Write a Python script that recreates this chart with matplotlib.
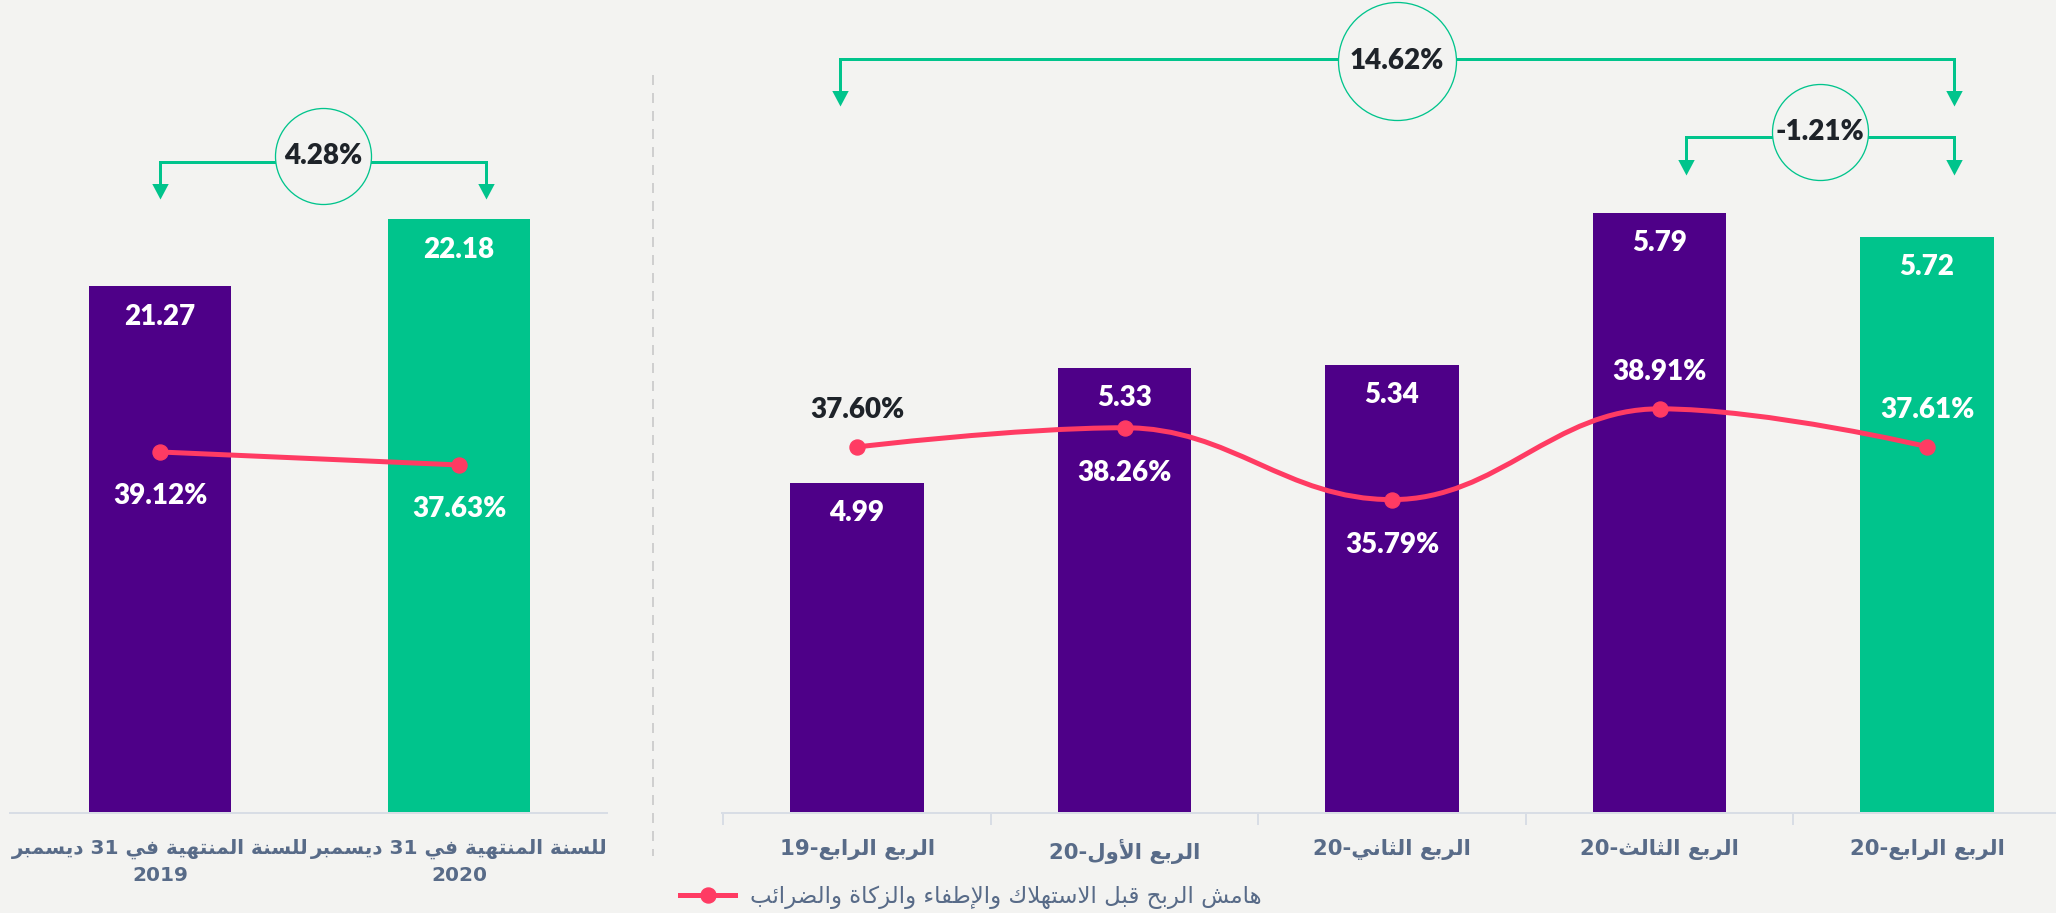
import re
import numpy as np
import matplotlib
matplotlib.use("Agg")
import matplotlib.pyplot as plt
from matplotlib.path import Path
from matplotlib.patches import PathPatch
from matplotlib.lines import Line2D
from matplotlib.transforms import blended_transform_factory

# ---------------- data ----------------
year_labels = ["للسنة المنتهية في 31 ديسمبر\n2019", "للسنة المنتهية في 31 ديسمبر\n2020"]
year_values = [21.27, 22.18]
year_margin = [39.12, 37.63]
year_change = "4.28%"

quarter_labels = ["الربع الرابع-19", "الربع الأول-20", "الربع الثاني-20",
                  "الربع الثالث-20", "الربع الرابع-20"]
quarter_values = [4.99, 5.33, 5.34, 5.79, 5.72]
quarter_margin = [37.60, 38.26, 35.79, 38.91, 37.61]
yoy_change = "14.62%"
qoq_change = "-1.21%"

legend_label = "هامش الربح قبل الاستهلاك والإطفاء والزكاة والضرائب"

# ---------------- styles ----------------
BG = "#f3f3f1"
PURPLE = "#4e0088"
GREEN = "#00c48c"
PINK = "#ff3b63"
DARK = "#1e2329"
LABEL = "#586b88"
AXIS = "#d8dde5"
NUMFONT = ["Lato", "DejaVu Sans"]
NUMW = "heavy"
ARFONT = ["DejaVu Sans"]
CATSIZE = 15.3
YEARSIZE = 14.4

# ---------------- minimal Arabic shaping / RTL ----------------
FORMS = {
    'ء': ('\uFE80', None, None, None),
    'آ': ('\uFE81', '\uFE82', None, None),
    'أ': ('\uFE83', '\uFE84', None, None),
    'ؤ': ('\uFE85', '\uFE86', None, None),
    'إ': ('\uFE87', '\uFE88', None, None),
    'ئ': ('\uFE89', '\uFE8A', '\uFE8B', '\uFE8C'),
    'ا': ('\uFE8D', '\uFE8E', None, None),
    'ب': ('\uFE8F', '\uFE90', '\uFE91', '\uFE92'),
    'ة': ('\uFE93', '\uFE94', None, None),
    'ت': ('\uFE95', '\uFE96', '\uFE97', '\uFE98'),
    'ث': ('\uFE99', '\uFE9A', '\uFE9B', '\uFE9C'),
    'ج': ('\uFE9D', '\uFE9E', '\uFE9F', '\uFEA0'),
    'ح': ('\uFEA1', '\uFEA2', '\uFEA3', '\uFEA4'),
    'خ': ('\uFEA5', '\uFEA6', '\uFEA7', '\uFEA8'),
    'د': ('\uFEA9', '\uFEAA', None, None),
    'ذ': ('\uFEAB', '\uFEAC', None, None),
    'ر': ('\uFEAD', '\uFEAE', None, None),
    'ز': ('\uFEAF', '\uFEB0', None, None),
    'س': ('\uFEB1', '\uFEB2', '\uFEB3', '\uFEB4'),
    'ش': ('\uFEB5', '\uFEB6', '\uFEB7', '\uFEB8'),
    'ص': ('\uFEB9', '\uFEBA', '\uFEBB', '\uFEBC'),
    'ض': ('\uFEBD', '\uFEBE', '\uFEBF', '\uFEC0'),
    'ط': ('\uFEC1', '\uFEC2', '\uFEC3', '\uFEC4'),
    'ظ': ('\uFEC5', '\uFEC6', '\uFEC7', '\uFEC8'),
    'ع': ('\uFEC9', '\uFECA', '\uFECB', '\uFECC'),
    'غ': ('\uFECD', '\uFECE', '\uFECF', '\uFED0'),
    'ف': ('\uFED1', '\uFED2', '\uFED3', '\uFED4'),
    'ق': ('\uFED5', '\uFED6', '\uFED7', '\uFED8'),
    'ك': ('\uFED9', '\uFEDA', '\uFEDB', '\uFEDC'),
    'ل': ('\uFEDD', '\uFEDE', '\uFEDF', '\uFEE0'),
    'م': ('\uFEE1', '\uFEE2', '\uFEE3', '\uFEE4'),
    'ن': ('\uFEE5', '\uFEE6', '\uFEE7', '\uFEE8'),
    'ه': ('\uFEE9', '\uFEEA', '\uFEEB', '\uFEEC'),
    'و': ('\uFEED', '\uFEEE', None, None),
    'ى': ('\uFEEF', '\uFEF0', None, None),
    'ي': ('\uFEF1', '\uFEF2', '\uFEF3', '\uFEF4'),
}
LAM_ALEF = {'آ': ('\uFEF5', '\uFEF6'), 'أ': ('\uFEF7', '\uFEF8'),
            'إ': ('\uFEF9', '\uFEFA'), 'ا': ('\uFEFB', '\uFEFC')}


def _dual(c):
    return c in FORMS and FORMS[c][2] is not None


def _has_final(c):
    return c in FORMS and FORMS[c][1] is not None


def shape(s):
    out = []
    n = len(s)
    i = 0
    while i < n:
        c = s[i]
        prev_joins = i > 0 and _dual(s[i - 1])
        if c == 'ل' and i + 1 < n and s[i + 1] in LAM_ALEF:
            iso, fin = LAM_ALEF[s[i + 1]]
            out.append(fin if prev_joins else iso)
            i += 2
            continue
        if c not in FORMS:
            out.append(c)
            i += 1
            continue
        iso, fin, ini, med = FORMS[c]
        pj = prev_joins and fin is not None
        nj = ini is not None and i + 1 < n and _has_final(s[i + 1])
        if pj and nj:
            out.append(med)
        elif pj:
            out.append(fin)
        elif nj:
            out.append(ini)
        else:
            out.append(iso)
        i += 1
    return ''.join(out)


def ar(text):
    lines = []
    for line in text.split('\n'):
        rev = shape(line)[::-1]
        rev = re.sub(r'[0-9]+', lambda m: m.group(0)[::-1], rev)
        lines.append(rev)
    return '\n'.join(lines)


def hc_spline(xs, ys, smoothing=1.5):
    n = len(xs)
    lc = [None] * n
    rc = [None] * n
    d = smoothing + 1
    for i in range(1, n - 1):
        px, py = xs[i], ys[i]
        lx, ly = xs[i - 1], ys[i - 1]
        nx, ny = xs[i + 1], ys[i + 1]
        lcx = (smoothing * px + lx) / d
        lcy = (smoothing * py + ly) / d
        rcx = (smoothing * px + nx) / d
        rcy = (smoothing * py + ny) / d
        corr = ((rcy - lcy) * (rcx - px)) / (rcx - lcx) + py - rcy
        lcy += corr
        rcy += corr
        if lcy > ly and lcy > py:
            lcy = max(ly, py); rcy = 2 * py - lcy
        elif lcy < ly and lcy < py:
            lcy = min(ly, py); rcy = 2 * py - lcy
        if rcy > ny and rcy > py:
            rcy = max(ny, py); lcy = 2 * py - rcy
        elif rcy < ny and rcy < py:
            rcy = min(ny, py); lcy = 2 * py - rcy
        lc[i] = (lcx, lcy)
        rc[i] = (rcx, rcy)
    verts = [(xs[0], ys[0])]
    codes = [Path.MOVETO]
    for i in range(1, n):
        c1 = rc[i - 1] if rc[i - 1] is not None else (xs[i - 1], ys[i - 1])
        c2 = lc[i] if lc[i] is not None else (xs[i], ys[i])
        verts += [c1, c2, (xs[i], ys[i])]
        codes += [Path.CURVE4] * 3
    return Path(verts, codes)


# ---------------- figure ----------------
W, H, DPI = 2056, 913, 100
PX = 72.0 / DPI  # points per pixel
fig = plt.figure(figsize=(W / DPI, H / DPI), dpi=DPI, facecolor=BG)

BASE = 813  # baseline pixel row from top
ax_l = fig.add_axes([10 / W, (H - BASE) / H, 597 / W, BASE / H])
ax_r = fig.add_axes([722 / W, (H - BASE) / H, 1334 / W, BASE / H])

for ax in (ax_l, ax_r):
    ax.set_facecolor("none")
    for s in ("left", "right", "top"):
        ax.spines[s].set_visible(False)
    ax.spines["bottom"].set_color(AXIS)
    ax.spines["bottom"].set_linewidth(2 * PX)
    ax.set_yticks([])

# ---- left chart ----
xl = np.arange(len(year_values))
cols_l = [PURPLE] * (len(year_values) - 1) + [GREEN]
ax_l.bar(xl, year_values, width=0.475, color=cols_l, zorder=2)
ax_l.set_xlim(-0.502, 1.495)
ax_l.set_ylim(14.11, 25.16)
ax_l.set_xticks([])
blend_l = blended_transform_factory(ax_l.transData, ax_l.transAxes)
for x, t in zip(xl, year_labels):
    ax_l.annotate(ar(t), (x, 0), xycoords=blend_l, xytext=(0, -26 * PX),
                  textcoords="offset points", ha="center", va="top", ma="center",
                  family=ARFONT, fontweight="bold", fontsize=YEARSIZE, color=LABEL,
                  linespacing=1.42, annotation_clip=False)
for x, v in zip(xl, year_values):
    ax_l.annotate(f"{v:.2f}", (x, v), xytext=(0, -31 * PX), textcoords="offset points",
                  ha="center", va="center", color="white", fontsize=20,
                  fontweight=NUMW, family=NUMFONT, zorder=5)

tl = ax_l.twinx()
tl.set_ylim(-2.28, 90.95)
tl.axis("off")
tl.plot(xl, year_margin, color=PINK, lw=5 * PX, marker="o", ms=15 * PX, zorder=4,
        solid_capstyle="round")
for x, v in zip(xl, year_margin):
    tl.annotate(f"{v:.2f}%", (x, v), xytext=(0, -44 * PX), textcoords="offset points",
                ha="center", va="center", color="white", fontsize=20,
                fontweight=NUMW, family=NUMFONT, zorder=5)

# ---- right chart ----
xr = np.arange(len(quarter_values))
cols_r = [PURPLE] * (len(quarter_values) - 1) + [GREEN]
ax_r.bar(xr, quarter_values, width=0.50, color=cols_r, zorder=2)
ax_r.set_xlim(-0.505, 4.482)
ax_r.set_ylim(4.012, 6.422)
ax_r.set_xticks(xr)
ax_r.set_xticklabels([ar(t) for t in quarter_labels], family=ARFONT, fontweight="bold",
                     fontsize=CATSIZE, color=LABEL)
ax_r.tick_params(axis="x", which="major", length=0, pad=19)
ax_r.set_xticks(xr - 0.5, minor=True)
ax_r.tick_params(axis="x", which="minor", length=12 * PX, width=2 * PX, color=AXIS)
for x, v in zip(xr, quarter_values):
    ax_r.annotate(f"{v:.2f}", (x, v), xytext=(0, -30 * PX), textcoords="offset points",
                  ha="center", va="center", color="white", fontsize=20,
                  fontweight=NUMW, family=NUMFONT, zorder=5)

tr = ax_r.twinx()
tr.set_ylim(25.02, 52.96)
tr.axis("off")
tr.add_patch(PathPatch(hc_spline(list(xr), quarter_margin), facecolor="none",
                       edgecolor=PINK, lw=5 * PX, zorder=3, capstyle="round"))
tr.plot(xr, quarter_margin, ls="none", marker="o", ms=15 * PX, color=PINK, zorder=4)
label_pos = ["above", "below", "below", "above", "above"]
label_col = [DARK, "white", "white", "white", "white"]
for x, v, p, c in zip(xr, quarter_margin, label_pos, label_col):
    off = 37 if p == "above" else -45
    tr.annotate(f"{v:.2f}%", (x, v), xytext=(0, off * PX), textcoords="offset points",
                ha="center", va="center", color=c, fontsize=20,
                fontweight=NUMW, family=NUMFONT, zorder=5)

# ---- change brackets ----
TRI = Path([(0, 0), (-0.53, 1), (0.53, 1), (0, 0)],
           [Path.MOVETO, Path.LINETO, Path.LINETO, Path.CLOSEPOLY])


def bracket(ax, x0, x1, y_line, y_tip, yc, r_px, label):
    tr_ = blended_transform_factory(ax.transData, ax.transAxes)
    f = 1.0 / BASE
    yl = (BASE - y_line) * f
    yt = (BASE - y_tip) * f
    ye = (BASE - y_tip + 8) * f
    ax.plot([x0, x0, x1, x1], [ye, yl, yl, ye], color=GREEN, lw=3 * PX,
            transform=tr_, clip_on=False, zorder=6, solid_joinstyle="miter")
    ax.plot([x0, x1], [yt, yt], ls="none", marker=TRI, ms=31 * PX, color=GREEN,
            mew=0, transform=tr_, clip_on=False, zorder=6)
    xm = (x0 + x1) / 2
    ycc = (BASE - yc) * f
    ax.plot([xm], [ycc], marker="o", ms=2 * r_px * PX, mfc=BG, mec=GREEN,
            mew=1.3 * PX, transform=tr_, clip_on=False, zorder=7)
    ax.text(xm, ycc, label, transform=tr_, ha="center", va="center", color=DARK,
            fontsize=20, fontweight=NUMW, family=NUMFONT, zorder=8)


bracket(tl, 0.0, 1.09, 162, 199, 156, 48, year_change)
bracket(tr, -0.064, 4.10, 59, 106, 61, 59, yoy_change)
bracket(tr, 3.097, 4.10, 137, 175, 132, 48, qoq_change)

# ---- separator ----
fig.add_artist(Line2D([653 / W, 653 / W], [1 - 75 / H, 1 - 856 / H], color="#cfcfcf",
                      lw=2 * PX, ls=(0, (5, 4))))

# ---- legend ----
h = Line2D([], [], color=PINK, lw=5 * PX, marker="o", ms=15 * PX)
leg = fig.legend([h], [ar(legend_label)], loc="center left",
                 bbox_to_anchor=(680 / W, 1 - 897 / H), frameon=False,
                 borderpad=0, borderaxespad=0, handlelength=2.4, handletextpad=0.65,
                 prop={"family": ARFONT, "size": 16.5})
for t in leg.get_texts():
    t.set_color(LABEL)

fig.savefig("out.png", dpi=DPI, facecolor=BG)
